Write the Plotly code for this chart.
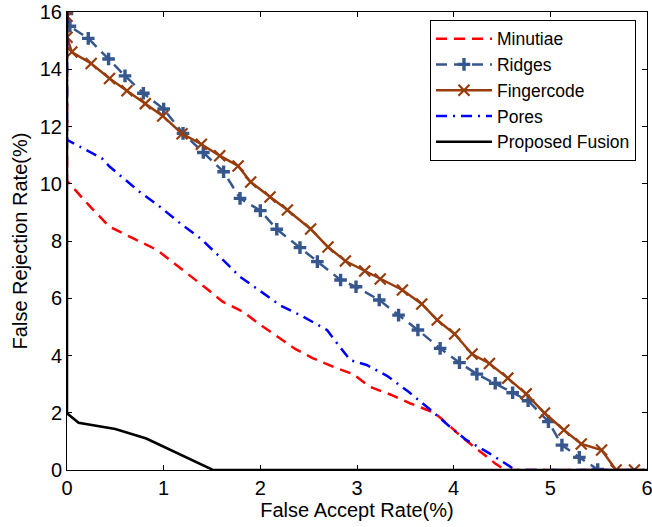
import plotly.graph_objects as go

# Fingercode (solid brown, x markers)
finger_x = [0, 0, 0.05, 0.25, 0.44, 0.62, 0.81, 0.99, 1.19, 1.39, 1.58, 1.77, 1.90, 2.10, 2.28,
            2.52, 2.70, 2.88, 3.08, 3.24, 3.47, 3.67, 3.83, 4.01, 4.19, 4.37, 4.56, 4.75, 4.94,
            5.14, 5.32, 5.53, 5.68, 5.87]
finger_y = [15.85, 15.12, 14.6, 14.2, 13.68, 13.25, 12.8, 12.37, 11.75, 11.38, 10.98, 10.62, 10.06,
            9.54, 9.08, 8.42, 7.79, 7.30, 6.95, 6.67, 6.29, 5.80, 5.24, 4.75, 4.05, 3.72, 3.21,
            2.66, 1.99, 1.40, 0.91, 0.70, 0.0, 0.0]

# Ridges (dashed, + markers)
ridges_x = [0, 0.03, 0.22, 0.43, 0.60, 0.79, 1.00, 1.20, 1.41, 1.62, 1.79, 2.00, 2.17, 2.41, 2.59,
            2.83, 2.99, 3.23, 3.43, 3.63, 3.86, 4.06, 4.24, 4.43, 4.61, 4.77, 4.98, 5.12, 5.30, 5.49]
ridges_y = [15.95, 15.5, 15.08, 14.36, 13.77, 13.16, 12.61, 11.76, 11.09, 10.42, 9.49, 9.06, 8.41,
            7.77, 7.28, 6.64, 6.40, 5.94, 5.41, 4.89, 4.25, 3.75, 3.35, 3.03, 2.70, 2.42, 1.69,
            0.87, 0.44, 0.02]

# Minutiae (red dashed)
minutiae_x = [0, 0, 0.24, 0.44, 0.68, 0.93, 1.10, 1.27, 1.44, 1.61, 1.82, 2.0, 2.18, 2.36, 2.54,
              2.75, 2.96, 3.13, 3.35, 3.55, 3.80, 3.93, 4.08, 4.25, 4.43, 4.53, 6]
minutiae_y = [16, 10.1, 9.2, 8.5, 8.1, 7.69, 7.24, 6.81, 6.35, 5.88, 5.53, 5.07, 4.65, 4.23, 3.91,
              3.61, 3.35, 2.91, 2.63, 2.33, 2.0, 1.63, 1.16, 0.70, 0.23, 0, 0]

# Pores (blue dash-dot)
pores_x = [0, 0, 0.36, 0.44, 0.75, 0.96, 1.17, 1.38, 1.58, 1.79, 2.0, 2.2, 2.44, 2.69, 2.82, 2.93,
           3.1, 3.31, 3.53, 3.74, 3.94, 4.13, 4.37, 4.64, 6]
pores_y = [16, 11.53, 10.89, 10.6, 9.72, 9.2, 8.62, 8.09, 7.45, 6.75, 6.25, 5.76, 5.36, 4.89, 4.31,
           3.84, 3.67, 3.29, 2.74, 2.16, 1.57, 1.05, 0.58, 0, 0]

# Proposed fusion (black solid)
fusion_x = [0, 0, 0.12, 0.5, 0.82, 1.0, 1.51, 6]
fusion_y = [16, 1.98, 1.65, 1.43, 1.1, 0.82, 0, 0]

font = dict(family='Liberation Sans, Arial, sans-serif', size=20, color='#000000')
legend_font = dict(family='Liberation Sans, Arial, sans-serif', size=17.5, color='#000000')

fig = go.Figure()
fig.add_trace(go.Scatter(x=minutiae_x, y=minutiae_y, name='Minutiae', mode='lines',
                         line=dict(color='#FF0000', width=2.5, dash='11px,7px')))
fig.add_trace(go.Scatter(x=ridges_x, y=ridges_y, name='Ridges', mode='lines+markers',
                         line=dict(color='#36578E', width=2.5, dash='11px,7px'),
                         marker=dict(symbol='cross-thin', size=9,
                                     line=dict(color='#36578E', width=3.4))))
fig.add_trace(go.Scatter(x=finger_x, y=finger_y, name='Fingercode', mode='lines+markers',
                         line=dict(color='#993C0C', width=2.5),
                         marker=dict(symbol='x-thin', size=11,
                                     line=dict(color='#993C0C', width=2.2))))
fig.add_trace(go.Scatter(x=pores_x, y=pores_y, name='Pores', mode='lines',
                         line=dict(color='#0000FF', width=2.5, dash='11px,6px,2px,6px')))
fig.add_trace(go.Scatter(x=fusion_x, y=fusion_y, name='Proposed Fusion', mode='lines',
                         line=dict(color='#000000', width=2.5)))

axis_common = dict(showgrid=False, zeroline=False, showline=True, linecolor='#000000',
                   linewidth=1, mirror='allticks', ticks='inside', ticklen=5,
                   tickcolor='#000000', tickfont=font, automargin=False,
                   ticklabeloverflow='allow')
fig.update_layout(
    width=652, height=527,
    margin=dict(l=67, r=5, t=12, b=57),
    paper_bgcolor='white', plot_bgcolor='white',
    font=font,
    showlegend=True,
    xaxis=dict(range=[0, 6], dtick=1, title=dict(text='False Accept Rate(%)', font=font, standoff=4),
               **axis_common),
    yaxis=dict(range=[0, 16], dtick=2, title=dict(text='False Rejection Rate(%)', font=font, standoff=6),
               **axis_common),
    legend=dict(x=0.981, y=0.983, xanchor='right', yanchor='top', bgcolor='white',
                bordercolor='#000000', borderwidth=1, font=legend_font, tracegroupgap=0,
                itemwidth=56),
)

# drop the default 8px page margin so the figure sits at the window's corner
fig.write_html("out.html", config={'displayModeBar': False},
               post_script="document.body.style.margin = '0';")
